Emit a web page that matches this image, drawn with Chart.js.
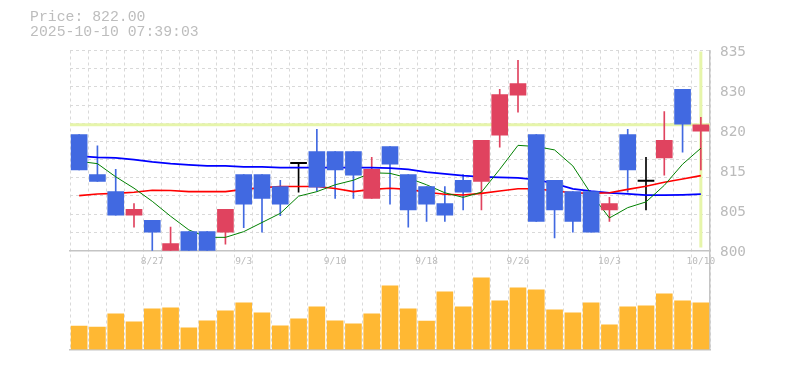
<!DOCTYPE html>
<html><head><meta charset="utf-8">
<script src="https://cdn.jsdelivr.net/npm/chart.js@4.4.1/dist/chart.umd.min.js"></script>
<style>
html,body{margin:0;padding:0;background:#fff;}
#wrap{position:relative;width:785px;height:370px;overflow:hidden;}
#c{position:absolute;left:0;top:0;}
.t{position:absolute;left:30px;font-family:"Liberation Mono","DejaVu Sans Mono",monospace;font-size:14.8px;color:#bdbdbd;line-height:15px;white-space:pre;}
</style></head><body>
<div id="wrap"><canvas id="c" width="785" height="370"></canvas>
<div class="t" style="top:10px">Price: 822.00</div>
<div class="t" style="top:25px">2025-10-10 07:39:03</div></div>
<script>
const categories = ['8/21','8/22','8/25','8/26','8/27','8/28','8/29','9/1','9/2','9/3','9/4','9/5','9/8','9/9','9/10','9/11','9/12','9/16','9/17','9/18','9/19','9/22','9/24','9/25','9/26','9/29','9/30','10/1','10/2','10/3','10/6','10/7','10/8','10/9','10/10'];
const tickLabels = ['8/27','9/3','9/10','9/18','9/26','10/3','10/10'];
const openP  = [820.3,813.3,810.3,806.2,805.3,800.0,803.3,803.3,803.2,813.3,813.3,811.2,815.2,817.3,817.3,817.3,809.1,818.2,813.3,811.2,808.2,812.3,812.1,820.2,827.2,820.3,812.3,810.3,810.3,807.1,820.3,812.1,816.2,828.2,820.9];
const highP  = [820.3,818.3,814.2,808.2,805.3,804.1,803.3,803.3,807.2,813.3,813.3,812.3,815.2,821.2,817.3,817.3,816.3,818.2,813.3,811.2,811.2,813.3,819.3,828.2,833.3,820.3,812.3,810.3,810.3,809.3,821.2,816.3,824.3,828.2,823.3];
const lowP   = [814.1,812.1,806.2,804.1,800.0,800.0,800.0,800.0,801.1,804.0,803.2,806.1,810.2,810.4,809.1,809.1,809.1,808.1,804.1,805.1,805.1,807.1,807.1,818.1,824.2,805.1,802.2,803.2,803.2,805.1,810.2,807.1,813.2,817.2,814.1];
const closeP = [814.1,812.1,806.2,807.2,803.2,801.2,800.0,800.0,807.2,808.1,809.1,808.1,815.2,811.1,814.1,813.2,814.2,815.1,807.1,808.1,806.2,810.2,819.3,827.3,829.2,805.1,807.1,805.1,803.2,808.2,814.1,812.1,819.3,822.1,822.0];
const ma5  = [815.6,815.2,812.9,810.9,808.6,806.0,803.6,802.3,802.3,803.3,804.9,806.5,809.5,810.3,811.5,812.3,813.6,813.5,812.7,811.5,810.1,809.3,810.2,814.2,818.4,818.2,817.6,814.8,809.9,805.7,807.5,808.5,811.4,815.1,817.9];
const ma25 = [809.6,809.9,810.0,810.2,810.55,810.5,810.3,810.3,810.3,810.7,811.0,811.2,811.2,811.2,810.85,810.3,810.7,810.9,810.7,810.2,809.85,809.7,810.0,810.4,810.8,810.8,810.4,810.1,810.0,810.1,810.7,811.25,811.95,812.5,813.1];
const ma75 = [816.5,816.3,816.2,815.9,815.5,815.2,815.0,814.8,814.8,814.65,814.65,814.5,814.5,814.5,814.5,814.5,814.5,814.4,814.2,813.7,813.4,813.1,812.9,812.8,812.7,812.4,811.7,810.8,810.4,810.1,809.9,809.7,809.7,809.75,809.85];
const volume = [7000,6700,10700,8300,12200,12500,6500,8600,11600,14000,11000,7100,9200,12800,8600,7700,10700,19100,12200,8500,17300,12800,21500,14600,18500,17900,11900,11000,14000,7400,12800,13100,16700,14600,14000];
const priceTicks = [800,807,814,821,828,835];
const priceTickLabels = ['800','805','815','820','830','835'];
const currentPrice = 822.00;

// layout (pixels)
const padTop = 50.5, padBottom = 20.5, padLeft = 70, axisW = 75;
const priceTop = 835, priceBottom = 800, pricePanelH = 200, volPanelH = 99;
const plotH = pricePanelH + volPanelH;
const priceMin = priceBottom - (priceTop - priceBottom) * volPanelH / pricePanelH;
const volMax = 300 * plotH;
const gridVals = [];
for (let k = 0; k <= 11; k++) gridVals.push(priceBottom + k * (priceTop - priceBottom) / 11);

const UP = '#e0435f', DOWN = '#4169e1', EVEN = '#000000';
const candleColors = openP.map((o, i) => closeP[i] > o ? UP : (closeP[i] < o ? DOWN : EVEN));
const bodies = openP.map((o, i) => [o, closeP[i]]);
const wicks = lowP.map((l, i) => [l, highP[i]]);

const GRID = '#d9d9d9', BORDER = '#c4c4c4', TXT = '#bbbbbb';

const crosshair = {
  id: 'crosshair',
  beforeDatasetsDraw(chart) {
    const {ctx, chartArea: a, scales: {x, y}} = chart;
    const py = y.getPixelForValue(currentPrice);
    const px = x.getPixelForValue(categories.length - 1);
    ctx.save();
    ctx.strokeStyle = '#e6f5aa';
    ctx.lineWidth = 3;
    ctx.beginPath();
    ctx.moveTo(a.left, py); ctx.lineTo(a.right, py);
    ctx.moveTo(px, y.getPixelForValue(priceTop) + 1);
    ctx.lineTo(px, y.getPixelForValue(priceBottom) - 3);
    ctx.stroke();
    ctx.restore();
  }
};

new Chart(document.getElementById('c'), {
  data: {
    labels: categories,
    datasets: [
      {type: 'bar', data: bodies, backgroundColor: candleColors, barThickness: 16, minBarLength: 1.2, grouped: false, yAxisID: 'y', xAxisID: 'x', order: 0},
      {type: 'line', data: ma5, borderColor: '#008000', borderWidth: 1, pointRadius: 0, tension: 0, yAxisID: 'y', xAxisID: 'x', order: 1},
      {type: 'line', data: ma25, borderColor: '#ff0000', borderWidth: 1.6, pointRadius: 0, tension: 0, yAxisID: 'y', xAxisID: 'x', order: 2},
      {type: 'line', data: ma75, borderColor: '#0000ff', borderWidth: 1.8, pointRadius: 0, tension: 0, yAxisID: 'y', xAxisID: 'x', order: 3},
      {type: 'bar', data: wicks, backgroundColor: candleColors, barThickness: 1, grouped: false, yAxisID: 'y', xAxisID: 'x', order: 4},
      {type: 'bar', data: volume, backgroundColor: '#ffb833', barThickness: 16, grouped: false, yAxisID: 'yv', xAxisID: 'x', order: 5}
    ]
  },
  options: {
    responsive: false,
    devicePixelRatio: 1,
    animation: false,
    events: [],
    layout: {padding: {top: padTop, bottom: padBottom, left: padLeft, right: 0}},
    plugins: {legend: {display: false}, tooltip: {enabled: false}},
    scales: {
      x: {
        type: 'category', offset: true, position: {y: priceBottom},
        grid: {offset: true, color: GRID, lineWidth: 1, drawTicks: false},
        border: {display: true, color: BORDER, width: 1.5, dash: [3, 3]},
        ticks: {autoSkip: false, maxRotation: 0, minRotation: 0, padding: 5, color: TXT,
          font: {family: 'DejaVu Sans Mono', size: 9.5},
          callback: (v, i) => tickLabels.includes(categories[i]) ? categories[i] : ''}
      },
      xb: {
        type: 'category', position: 'bottom', offset: true,
        grid: {display: false}, ticks: {display: false},
        border: {display: true, color: BORDER, width: 1.5},
        afterFit: s => { s.height = 0; }
      },
      y: {
        position: 'right', min: priceMin, max: priceTop,
        afterBuildTicks: s => { s.ticks = priceTicks.map(v => ({value: v})); },
        afterFit: s => { s.width = axisW; },
        grid: {display: false, drawTicks: false},
        border: {display: true, color: BORDER, width: 1.5},
        ticks: {padding: 10, labelOffset: 2, color: TXT,
          font: {family: 'DejaVu Sans Mono', size: 14.4},
          callback: (v, i) => priceTickLabels[i]}
      },
      yg: {
        position: 'left', min: priceMin, max: priceTop,
        afterBuildTicks: s => { s.ticks = gridVals.map(v => ({value: v})); },
        afterFit: s => { s.width = 0; },
        ticks: {display: false},
        grid: {color: GRID, lineWidth: 1, drawTicks: false},
        border: {display: false, dash: [3, 3]}
      },
      yv: {display: false, min: 0, max: volMax}
    }
  },
  plugins: [crosshair]
});
</script>
</body></html>
